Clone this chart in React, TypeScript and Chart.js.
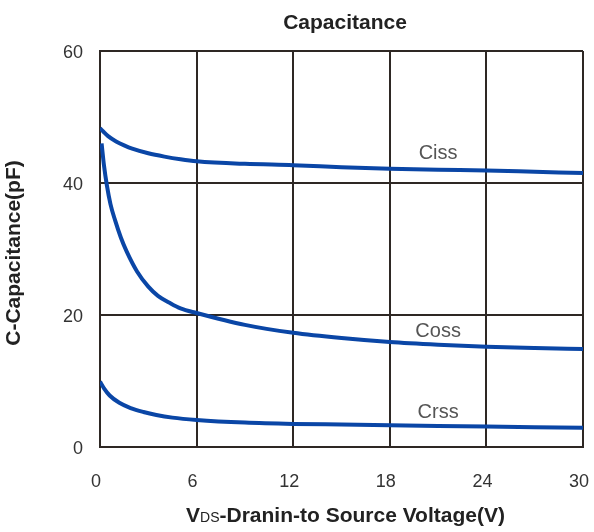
import React, { useEffect, useRef } from "react";
import { Chart, registerables } from "chart.js";

Chart.register(...registerables);

const TITLE = "Capacitance";
const Y_TITLE = "C-Capacitance(pF)";
const X_TITLE_MAIN = "V";
const X_TITLE_SUB = "DS";
const X_TITLE_REST = "-Dranin-to Source Voltage(V)";

const X_TICKS = [0, 6, 12, 18, 24, 30];
const Y_TICKS = [0, 20, 40, 60];

const cissV = [0, 0.2, 0.5, 1, 1.5, 2, 3, 4, 5, 6, 9, 12, 15, 18, 21, 24, 27, 30];
const cissC = [48.3, 47.8, 47.1, 46.3, 45.7, 45.2, 44.5, 44.0, 43.6, 43.3, 42.9, 42.7, 42.4, 42.15, 42.0, 41.9, 41.7, 41.5];

const cossV = [0.1, 0.25, 0.43, 0.65, 0.93, 1.3, 1.66, 2.3, 3.0, 3.6, 4.35, 5, 6, 9, 12, 15, 18, 21, 24, 27, 30];
const cossC = [46, 42.6, 39.6, 36.8, 34.4, 31.7, 29.6, 26.6, 24.3, 22.9, 21.8, 21.0, 20.3, 18.5, 17.3, 16.5, 15.9, 15.5, 15.2, 15.0, 14.85];

const crssV = [0, 0.25, 0.6, 1.2, 1.9, 2.7, 3.5, 4.5, 6, 9, 12, 15, 18, 21, 24, 27, 30];
const crssC = [9.9, 8.9, 7.8, 6.7, 5.9, 5.3, 4.85, 4.45, 4.1, 3.7, 3.5, 3.4, 3.3, 3.2, 3.1, 3.0, 2.9];

const seriesNames = ["Ciss", "Coss", "Crss"];
const labelV = [21, 21, 21];
const labelC = [44.4, 17.5, 5.3];

const FONT = '"Liberation Sans", Arial, Helvetica, sans-serif';
const LINE_COLOR = "#0a46a6";
const GRID_COLOR = "#2e2824";

const textPlugin = {
  id: "customText",
  afterDraw(chart: any) {
    const ctx = chart.ctx as CanvasRenderingContext2D;
    const xs = chart.scales.x;
    const ys = chart.scales.y;
    ctx.save();
    ctx.fillStyle = "#222";
    ctx.font = `bold 21px ${FONT}`;
    ctx.textAlign = "center";
    ctx.textBaseline = "alphabetic";
    ctx.fillText(TITLE, 345, 28.5);

    ctx.save();
    ctx.translate(20, 253);
    ctx.rotate(-Math.PI / 2);
    ctx.fillText(Y_TITLE, 0, 0);
    ctx.restore();

    const big = `bold 21px ${FONT}`;
    const small = `14px ${FONT}`;
    ctx.font = big;
    const w1 = ctx.measureText(X_TITLE_MAIN).width;
    const w3 = ctx.measureText(X_TITLE_REST).width;
    ctx.font = small;
    const w2 = ctx.measureText(X_TITLE_SUB).width;
    let x = 345.5 - (w1 + w2 + w3) / 2;
    const by = 521.5;
    ctx.textAlign = "left";
    ctx.font = big;
    ctx.fillText(X_TITLE_MAIN, x, by);
    x += w1;
    ctx.font = small;
    ctx.fillText(X_TITLE_SUB, x, by);
    x += w2;
    ctx.font = big;
    ctx.fillText(X_TITLE_REST, x, by);

    ctx.font = `20px ${FONT}`;
    ctx.fillStyle = "#555";
    ctx.textAlign = "center";
    ctx.textBaseline = "middle";
    for (let i = 0; i < seriesNames.length; i++) {
      ctx.fillText(seriesNames[i], xs.getPixelForValue(labelV[i]), ys.getPixelForValue(labelC[i]));
    }
    ctx.restore();
  },
};

function toPoints(xs: number[], ys: number[]) {
  return xs.map((v, i) => ({ x: v, y: ys[i] }));
}

export default function App() {
  const ref = useRef<HTMLCanvasElement | null>(null);
  useEffect(() => {
    if (!ref.current) return;
    const ds = (pts: any) => ({
      data: pts,
      borderColor: LINE_COLOR,
      borderWidth: 4,
      pointRadius: 0,
      fill: false,
      cubicInterpolationMode: "monotone" as const,
    });
    const chart = new Chart(ref.current, {
      type: "line",
      data: {
        datasets: [
          ds(toPoints(cissV, cissC)),
          ds(toPoints(cossV, cossC)),
          ds(toPoints(crssV, crssC)),
        ],
      },
      options: {
        responsive: false,
        animation: false,
        layout: { padding: { top: 51, right: 11, left: 0, bottom: 0 } },
        plugins: {
          legend: { display: false },
          tooltip: { enabled: false },
          title: { display: false },
        },
        scales: {
          x: {
            type: "linear",
            min: 0,
            max: 30,
            afterBuildTicks(s: any) {
              s.ticks = X_TICKS.map((v) => ({ value: v }));
            },
            afterFit(s: any) {
              s.height = 85;
              s.paddingLeft = 0;
              s.paddingRight = 0;
            },
            ticks: {
              padding: 24,
              labelOffset: -4,
              color: "#333",
              font: { size: 18, family: FONT },
              maxRotation: 0,
              autoSkip: false,
            },
            grid: { color: GRID_COLOR, lineWidth: 2, drawTicks: false },
            border: { color: GRID_COLOR, width: 2 },
          },
          y: {
            type: "linear",
            min: 0,
            max: 60,
            afterBuildTicks(s: any) {
              s.ticks = Y_TICKS.map((v) => ({ value: v }));
            },
            afterFit(s: any) {
              s.width = 100;
              s.paddingTop = 0;
              s.paddingBottom = 0;
            },
            ticks: {
              padding: 17,
              labelOffset: 2,
              color: "#333",
              font: { size: 18, family: FONT },
              autoSkip: false,
            },
            grid: { color: GRID_COLOR, lineWidth: 2, drawTicks: false },
            border: { color: GRID_COLOR, width: 2 },
          },
        },
      },
      plugins: [textPlugin],
    });
    return () => chart.destroy();
  }, []);
  return (
    <canvas
      ref={ref}
      width={594}
      height={532}
      style={{ position: "absolute", left: 0, top: 0, display: "block", background: "#fff" }}
    />
  );
}
